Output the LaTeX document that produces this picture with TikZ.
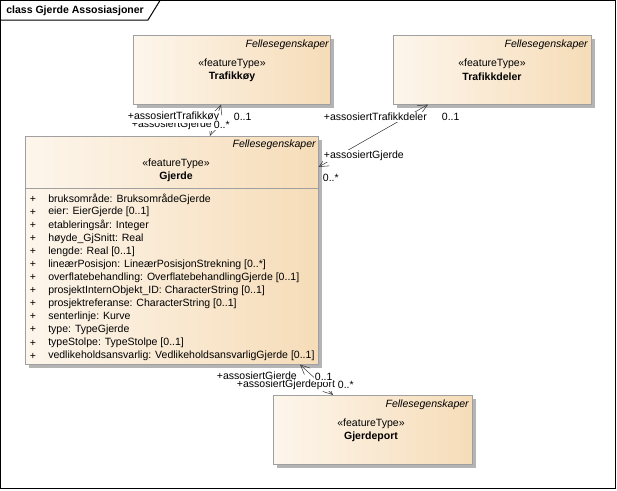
\documentclass[tikz,border=0pt]{standalone}
\usepackage{fontspec}
\setmainfont{Liberation Sans}
\usetikzlibrary{arrows.meta}
\usetikzlibrary{calc}
\usetikzlibrary{shadows}
\definecolor{boxleft}{RGB}{253,246,236}
\definecolor{boxright}{RGB}{246,220,184}
\definecolor{boxline}{RGB}{160,160,160}
\definecolor{shadowgray}{RGB}{180,180,180}
\definecolor{assocline}{RGB}{60,60,60}
\newdimen\px \px=0.75pt
\tikzset{cls/.style = {draw = boxline, left color = boxleft, right color = boxright, inner sep = 0, anchor = north west,
    drop shadow = {shadow xshift = 4\px, shadow yshift = -4\px, opacity = 1, fill = shadowgray}}}
\tikzset{txt/.style = {font = \fontsize{7.9}{9}\selectfont, inner sep = 0}}
\tikzset{lbl/.style = {txt, fill = white, inner xsep = 0.5pt, inner ysep = 0.8pt, anchor = west}}
\tikzset{assoc/.style = {draw = assocline, {Straight Barb[length = 7pt, width = 6.5pt]}-{Straight Barb[length = 7pt, width = 6.5pt]}}}

\begin{document}
\begin{tikzpicture}[x = 0.75pt, y = -0.75pt]

      \useasboundingbox (0, 0) rectangle (617, 490);
      \draw [line width = 0.75pt] (0.5, 0.5) rectangle (615, 488);
      \draw [line width = 0.75pt] (0.5, 20) -- (148, 20) -- (160, 0.5);
      \node [txt, anchor = west, font = \fontsize{7.9}{9}\selectfont\bfseries] (title) at (6, 11) {class Gjerde Assosiasjoner};

      \node [cls, minimum width = 197\px, minimum height = 69\px] (trafikkoy) at (133, 35) {};
      \node [cls, minimum width = 198\px, minimum height = 69\px] (trafikkdeler) at (393, 35) {};
      \node [cls, minimum width = 293\px, minimum height = 228\px] (gjerde) at (25, 136) {};
      \node [cls, minimum width = 199\px, minimum height = 69\px] (gjerdeport) at (273, 395) {};
      \draw [boxline] (gjerde.west |- 0, 188) -- (gjerde.east |- 0, 188);

      \node [txt, anchor = east, font = \fontsize{7.9}{9}\selectfont\itshape] (trafikkoy-super) at (329, 45) {Fellesegenskaper};
      \node [txt] (trafikkoy-stereo) at (232, 64) {«featureType»};
      \node [txt, font = \fontsize{7.9}{9}\selectfont\bfseries] (trafikkoy-name) at (232, 77) {Trafikkøy};

      \node [txt, anchor = east, font = \fontsize{7.9}{9}\selectfont\itshape] (trafikkdeler-super) at (588, 45) {Fellesegenskaper};
      \node [txt] (trafikkdeler-stereo) at (492, 64) {«featureType»};
      \node [txt, font = \fontsize{7.9}{9}\selectfont\bfseries] (trafikkdeler-name) at (492, 77) {Trafikkdeler};

      \node [txt, anchor = east, font = \fontsize{7.9}{9}\selectfont\itshape] (gjerde-super) at (316, 145) {Fellesegenskaper};
      \node [txt] (gjerde-stereo) at (176, 164) {«featureType»};
      \node [txt, font = \fontsize{7.9}{9}\selectfont\bfseries] (gjerde-name) at (176, 177) {Gjerde};

      \node [txt, anchor = east, font = \fontsize{7.9}{9}\selectfont\itshape] (gjerdeport-super) at (469, 405) {Fellesegenskaper};
      \node [txt] (gjerdeport-stereo) at (371, 424) {«featureType»};
      \node [txt, font = \fontsize{7.9}{9}\selectfont\bfseries] (gjerdeport-name) at (371, 437) {Gjerdeport};

      \foreach \attr [count = \i] in {bruksområde: BruksområdeGjerde, eier: EierGjerde [0..1], etableringsår: Integer,
          høyde\_GjSnitt: Real, lengde: Real [0..1], lineærPosisjon: LineærPosisjonStrekning [0..*],
          overflatebehandling: OverflatebehandlingGjerde [0..1], prosjektInternObjekt\_ID: CharacterString [0..1],
          prosjektreferanse: CharacterString [0..1], senterlinje: Kurve, type: TypeGjerde, typeStolpe: TypeStolpe [0..1],
          vedlikeholdsansvarlig: VedlikeholdsansvarligGjerde [0..1]} {
        \node [txt] (plus\i) at (33, 186 + 13.08 * \i) {+};
        \node [txt, anchor = west] (attr\i) at (48, 186 + 13.08 * \i) {\attr};
      }

      \draw [assoc] ($(gjerde.north west) + (185, 0)$) -- ($(trafikkoy.south west) + (88, 0)$);
      \draw [assoc] ($(gjerde.north east) + (0, 31)$) -- ($(trafikkdeler.south west) + (35, 0)$);
      \draw [assoc] ($(gjerde.south west) + (275, 0)$) -- ($(gjerdeport.north west) + (60, 0)$);

      \node [lbl] (gt-role) at (131, 125) {+assosiertGjerde};
      \node [lbl] (t-role) at (127, 117) {+assosiertTrafikkøy};
      \node [lbl] (gt-mult) at (213, 125) {0..*};
      \node [lbl] (t-mult) at (233, 117) {0..1};

      \node [lbl] (d-role) at (323, 117) {+assosiertTrafikkdeler};
      \node [lbl] (d-mult) at (441, 117) {0..1};
      \node [lbl] (gd-role) at (323, 156) {+assosiertGjerde};
      \node [lbl] (gd-mult) at (322, 178) {0..*};

      \node [lbl] (gp-role) at (216, 377) {+assosiertGjerde};
      \node [lbl] (p-role) at (236, 385) {+assosiertGjerdeport};
      \node [lbl] (gp-mult) at (314, 377) {0..1};
      \node [lbl] (p-mult) at (337, 385) {0..*};
    \end{tikzpicture}
\end{document}
